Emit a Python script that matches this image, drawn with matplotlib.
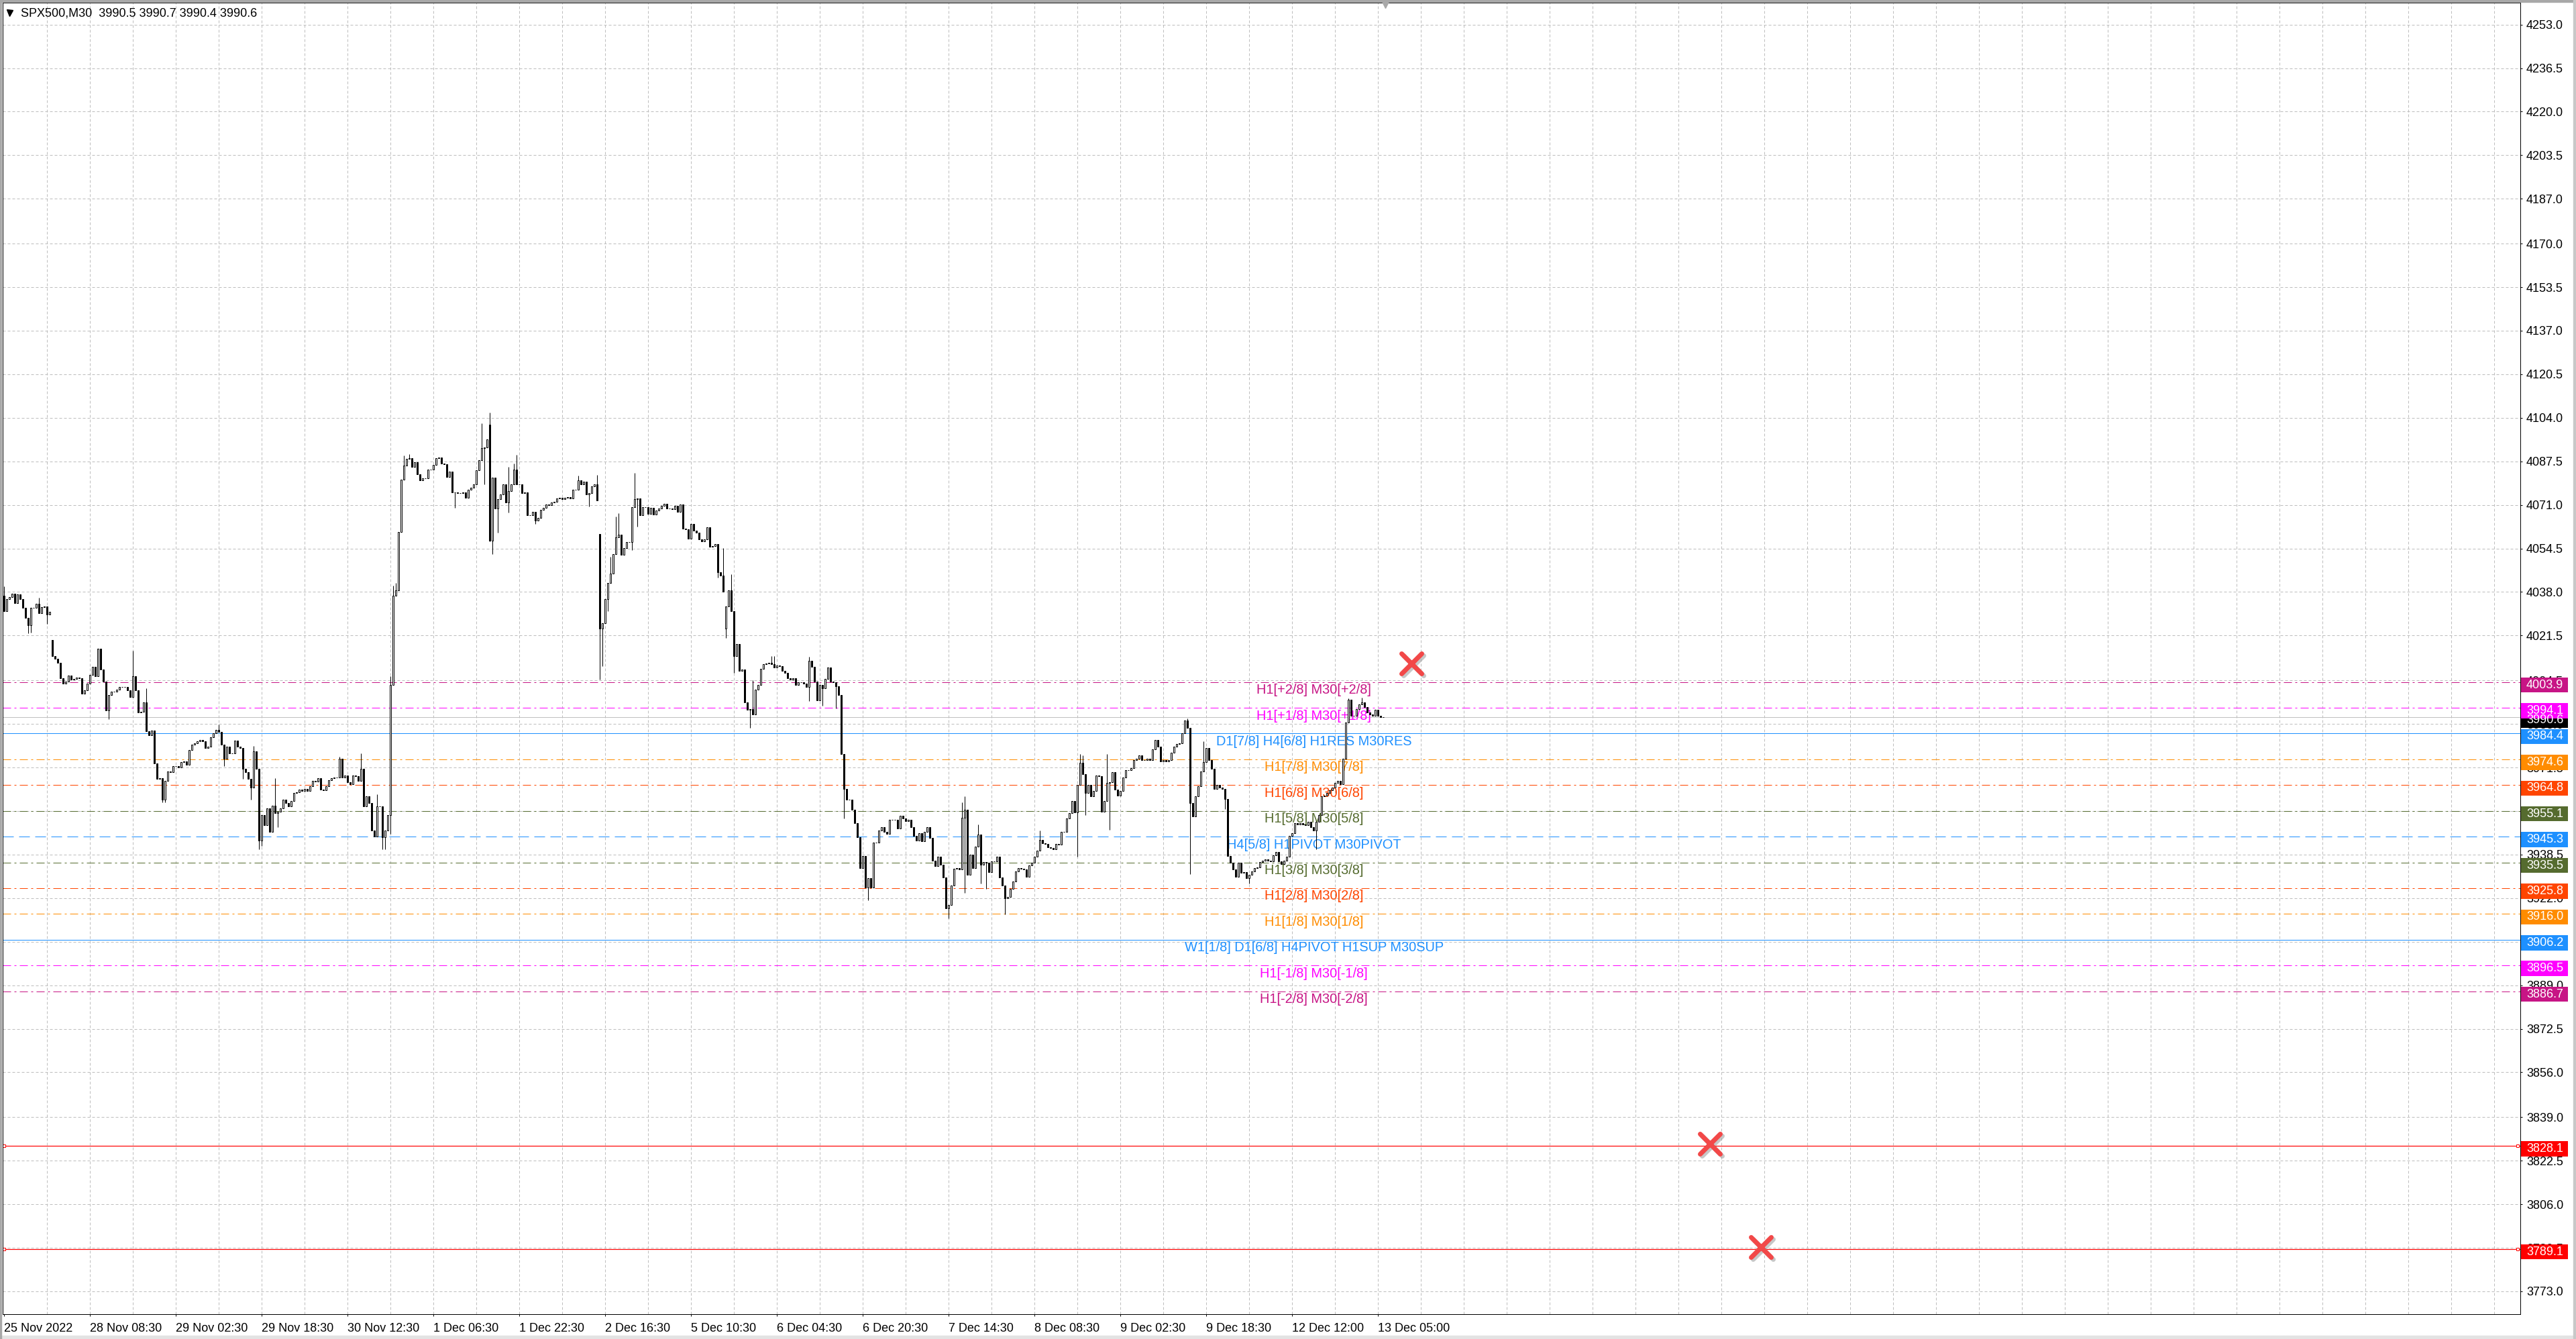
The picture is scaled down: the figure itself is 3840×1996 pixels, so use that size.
import numpy as np
import matplotlib.pyplot as plt
import matplotlib.transforms as mtransforms
from matplotlib.markers import MarkerStyle
from matplotlib.patches import Rectangle

plt.rcParams['font.family'] = ['Liberation Sans', 'DejaVu Sans']
plt.rcParams['lines.scale_dashes'] = False

# ---- M30 closes, one list per trading day ----
nov25 = [4030.7, 4035.2, 4036.1, 4037.4, 4033.9, 4037.2, 4035.2, 4032.0, 4028.1, 4025.5,
         4032.0, 4032.0, 4033.5, 4030.0, 4032.2, 4032.4, 4029.6, 4030.4]
nov28 = [4013.8, 4012.8, 4011.2, 4005.4, 4003.4, 4004.1, 4006.3, 4004.7, 4005.0,
         4005.7, 4005.4, 3999.6, 4000.8, 4003.4, 4006.7, 4009.7, 4006.0, 4016.4, 4008.6,
         4004.1, 3993.1, 3998.9, 4000.2, 4000.2, 4001.1, 4001.9, 4002.1, 4002.1, 4000.8,
         3998.3, 4006.0, 4000.8, 3992.4, 3992.7, 3996.3, 3985.3, 3983.7, 3985.5, 3973.0,
         3967.1, 3967.4, 3959.3, 3966.5]
nov29 = [3970.0, 3969.7, 3971.9, 3971.9, 3971.5, 3973.6, 3973.9, 3972.6, 3978.2, 3980.1,
         3980.7, 3981.4, 3982.0, 3981.4, 3978.8, 3979.5, 3983.0, 3984.6, 3985.7, 3985.0,
         3980.1, 3974.9, 3979.5, 3976.9, 3976.9, 3981.7, 3979.5, 3978.8, 3971.0, 3969.7,
         3967.1, 3963.9, 3977.5, 3971.0, 3943.8, 3953.5, 3949.6, 3956.1, 3947.0, 3957.0,
         3954.2, 3954.8, 3956.1, 3959.3]
nov30 = [3958.1, 3956.8, 3958.7, 3961.9, 3962.2, 3963.2, 3962.6, 3963.5, 3962.6, 3964.3,
         3966.5, 3966.1, 3967.4, 3963.2, 3963.0, 3964.5, 3966.7, 3967.4, 3967.8, 3967.8,
         3974.9, 3967.8, 3968.4, 3965.8, 3965.2, 3968.4, 3968.2, 3966.5, 3971.0, 3956.8,
         3960.6, 3958.1, 3947.7, 3945.3, 3956.8, 3956.8, 3945.1, 3947.7, 3953.5, 4002.8,
         4036.5, 4038.7, 4060.8, 4080.6]
dec01 = [4085.8, 4088.4, 4088.7, 4085.4, 4087.1, 4082.6, 4080.2, 4081.0, 4081.0, 4084.5,
         4084.5, 4086.2, 4088.8, 4089.0, 4086.7, 4086.5, 4081.5, 4083.6, 4075.8, 4075.8,
         4075.4, 4075.4, 4075.8, 4073.7, 4076.7, 4077.6, 4078.7, 4084.2, 4088.0, 4092.5,
         4092.7, 4095.8, 4057.5, 4081.3, 4069.6, 4073.2, 4075.0, 4078.7, 4071.9, 4076.3,
         4078.7, 4084.5, 4078.9, 4078.7]
dec02 = [4075.4, 4075.8, 4067.0, 4067.0, 4068.3, 4065.1, 4066.1, 4069.2, 4069.9, 4071.1,
         4070.9, 4071.9, 4072.2, 4073.5, 4073.8, 4073.2, 4073.6, 4073.9, 4073.4, 4076.7,
         4076.7, 4080.2, 4078.7, 4079.7, 4075.0, 4075.4, 4078.0, 4078.7, 4072.8, 4024.2,
         4026.1, 4035.2, 4041.3, 4044.9, 4052.3, 4058.8, 4059.6, 4052.1, 4054.7, 4056.9,
         4056.9, 4070.2, 4073.1, 4073.5]
dec05 = [4067.0, 4070.2, 4070.2, 4067.6, 4069.9, 4067.3, 4068.9, 4069.6, 4070.6, 4071.4,
         4069.6, 4069.6, 4069.3, 4070.6, 4068.3, 4071.1, 4062.1, 4061.8, 4058.2, 4063.8,
         4061.2, 4060.5, 4057.9, 4057.3, 4057.9, 4062.5, 4055.1, 4055.3, 4056.2, 4045.6,
         4044.3, 4038.2, 4032.4, 4038.7, 4030.7, 4013.8, 4018.4, 4008.0, 4008.6, 3996.3,
         3993.3, 3993.7, 3991.5, 4001.1]
dec06 = [4002.8, 4008.9, 4010.6, 4011.0, 4011.2, 4010.6, 4009.3, 4010.2, 4009.9, 4008.0,
         4007.3, 4005.4, 4004.7, 4005.4, 4002.8, 4003.7, 4003.7, 4003.4, 4001.9, 4011.9,
         4009.7, 4004.1, 3997.0, 4002.8, 4001.5, 4005.0, 4009.3, 4004.1, 4003.7, 4002.4,
         3998.9, 3976.5, 3963.5, 3959.3, 3959.3, 3955.5, 3950.5, 3945.1, 3933.4, 3938.0,
         3925.9, 3929.5, 3925.9, 3943.1]
dec07 = [3943.1, 3947.7, 3949.0, 3947.0, 3946.4, 3951.8, 3951.6, 3951.6, 3948.3, 3953.1,
         3952.2, 3951.3, 3951.6, 3949.0, 3945.7, 3943.8, 3946.6, 3943.5, 3947.0, 3949.0,
         3944.8, 3936.3, 3934.1, 3937.6, 3934.7, 3929.8, 3918.1, 3919.4, 3926.9, 3933.1,
         3933.4, 3932.8, 3952.5, 3955.5, 3930.8, 3938.6, 3933.4, 3941.4, 3946.1, 3934.7,
         3935.7, 3935.3, 3931.8, 3936.0]
dec08 = [3936.0, 3937.6, 3929.8, 3926.7, 3922.0, 3922.4, 3925.6, 3928.2, 3932.1, 3933.4,
         3933.1, 3932.8, 3930.2, 3934.5, 3935.3, 3937.6, 3939.9, 3944.0, 3942.7, 3942.5,
         3941.2, 3940.9, 3940.5, 3942.5, 3942.2, 3947.0, 3947.0, 3952.2, 3954.2, 3958.7,
         3954.4, 3964.8, 3973.2, 3969.1, 3961.9, 3964.8, 3960.6, 3962.6, 3968.4, 3968.2,
         3954.8, 3958.7, 3965.6, 3965.8]
dec09 = [3969.7, 3963.2, 3960.9, 3962.6, 3967.8, 3970.4, 3970.4, 3971.3, 3974.3, 3974.9,
         3976.2, 3974.3, 3974.3, 3974.7, 3974.3, 3978.5, 3982.0, 3979.5, 3973.9, 3974.3,
         3973.9, 3974.3, 3977.2, 3979.5, 3980.4, 3980.7, 3984.6, 3989.2, 3986.6, 3958.1,
         3952.9, 3960.6, 3964.5, 3970.0, 3973.6, 3978.8, 3974.3, 3971.0, 3963.5, 3964.8,
         3963.9, 3963.5, 3959.6, 3938.0, 3935.3]
dec12 = [3932.8, 3930.2, 3935.3, 3931.5, 3931.8, 3929.5, 3930.8, 3932.1, 3933.4, 3933.7,
         3935.7, 3936.3, 3936.6, 3936.3, 3936.0, 3938.3, 3939.6, 3936.0, 3935.0, 3936.3,
         3937.6, 3945.7, 3946.6, 3950.3, 3950.0, 3950.5, 3950.0, 3949.6, 3950.9, 3949.0,
         3947.7, 3950.9, 3953.5, 3960.6, 3960.9, 3961.9, 3963.0, 3963.9, 3965.6, 3966.5,
         3965.2, 3974.9, 3988.5, 3997.2, 3991.1, 3991.1]
dec13 = [3993.7, 3995.4, 3996.3, 3994.4, 3992.4, 3991.5, 3991.0, 3993.3, 3991.1, 3990.7,
         3990.6]

# opens that differ from the previous close (session gaps, news spikes)
gap_opens = {0: 4036.5, 18: 4019.9, 181: 4101.4, 222: 4060.1, 269: 4024.2}
# wick extremes that stick out of the bodies
wick_highs = {0: 4040.2, 13: 4035.9, 48: 4015.8, 53: 4001.5, 80: 3987.9, 93: 3979.7,
              101: 3967.4, 125: 3975.6, 133: 3976.9, 139: 3961.3, 144: 4006.0, 145: 4040.4,
              146: 4041.3, 149: 4089.7, 151: 4090.3, 178: 4102.0, 181: 4105.9, 188: 4085.4,
              190: 4086.7, 191: 4090.1, 214: 4082.2, 221: 4082.3, 226: 4051.4, 228: 4066.6,
              229: 4067.9, 235: 4083.2, 268: 4054.7, 271: 4044.6, 279: 4004.5, 286: 4013.6,
              287: 4013.6, 300: 4013.4, 357: 3958.3, 358: 3960.6, 363: 3950.0, 386: 3947.7,
              401: 3976.5, 402: 3976.2, 411: 3976.5, 441: 3990.2, 447: 3981.4, 501: 3997.6,
              506: 3998.0}
wick_lows = {9: 4022.3, 10: 4022.6, 16: 4025.8, 39: 3989.8, 59: 3958.3, 60: 3958.3,
             82: 3972.1, 89: 3967.1, 92: 3959.3, 95: 3940.6, 96: 3941.8, 102: 3949.0,
             141: 3940.6, 142: 3940.6, 144: 3946.4, 145: 4025.5, 168: 4069.9, 179: 4078.9,
             181: 4057.3, 182: 4052.3, 184: 4060.5, 188: 4068.1, 198: 4063.8, 218: 4070.5,
             222: 4004.7, 223: 4009.9, 225: 4030.7, 234: 4054.0, 236: 4062.9, 266: 4043.4,
             269: 4020.6, 272: 4007.3, 278: 3986.6, 300: 3996.7, 305: 3995.0, 310: 3994.0,
             313: 3952.2, 322: 3921.1, 352: 3914.2, 358: 3924.1, 364: 3927.6, 366: 3925.6,
             373: 3915.9, 400: 3937.6, 403: 3953.5, 412: 3947.9, 442: 3931.1, 455: 3955.7,
             464: 3927.6, 489: 3940.6}

time_labels = ["25 Nov 2022", "28 Nov 08:30", "29 Nov 02:30", "29 Nov 18:30", "30 Nov 12:30",
               "1 Dec 06:30", "1 Dec 22:30", "2 Dec 16:30", "5 Dec 10:30", "6 Dec 04:30",
               "6 Dec 20:30", "7 Dec 14:30", "8 Dec 08:30", "9 Dec 02:30", "9 Dec 18:30",
               "12 Dec 12:00", "13 Dec 05:00"]
bars_per_label = 32

price_ticks = [4253.0, 4236.5, 4220.0, 4203.5, 4187.0, 4170.0, 4153.5, 4137.0, 4120.5, 4104.0,
               4087.5, 4071.0, 4054.5, 4038.0, 4021.5, 4004.5, 3988.0, 3971.5, 3955.0, 3938.5,
               3922.0, 3905.5, 3889.0, 3872.5, 3856.0, 3839.0, 3822.5, 3806.0, 3789.5, 3773.0]

level_prices = [4003.9, 3994.1, 3984.4, 3974.6, 3964.8, 3955.1, 3945.3, 3935.5, 3925.8,
                3916.0, 3906.2, 3896.5, 3886.7]
level_names = ["H1[+2/8] M30[+2/8]", "H1[+1/8] M30[+1/8]", "D1[7/8] H4[6/8] H1RES M30RES",
               "H1[7/8] M30[7/8]", "H1[6/8] M30[6/8]", "H1[5/8] M30[5/8]",
               "H4[5/8] H1PIVOT M30PIVOT", "H1[3/8] M30[3/8]", "H1[2/8] M30[2/8]",
               "H1[1/8] M30[1/8]", "W1[1/8] D1[6/8] H4PIVOT H1SUP M30SUP",
               "H1[-1/8] M30[-1/8]", "H1[-2/8] M30[-2/8]"]
alert_prices = [3828.1, 3789.1]
last_price = 3990.6
title = "SPX500,M30  3990.5 3990.7 3990.4 3990.6"
cross_bars = [524.6, 635.9, 654.9]
cross_prices = [4010.9, 3828.9, 3789.8]

# ---- styles ----
W, H, DPI = 3840, 1996, 100
PX = 72 / DPI
FS = 18 * PX
VIOLET, MAGENTA, BLUE = '#C71585', '#FF00FF', '#1E90FF'
ORANGE, ORANGERED, OLIVE = '#FF8C00', '#FF4500', '#556B2F'
DASHDOT = (12 * PX, 5 * PX, 3 * PX, 5 * PX)
level_colors = [VIOLET, MAGENTA, BLUE, ORANGE, ORANGERED, OLIVE, BLUE, OLIVE, ORANGERED,
                ORANGE, BLUE, MAGENTA, VIOLET]
level_dashes = [DASHDOT, DASHDOT, None, DASHDOT, DASHDOT, DASHDOT, (16 * PX, 8 * PX), DASHDOT,
                DASHDOT, DASHDOT, None, DASHDOT, DASHDOT]
LABEL_BAR = 488.3

closes = np.concatenate([np.asarray(d, float) for d in
                         (nov25, nov28, nov29, nov30, dec01, dec02, dec05, dec06,
                          dec07, dec08, dec09, dec12, dec13)])
n = len(closes)
xs = np.arange(n)
opens = np.r_[closes[0], closes[:-1]]
for i, v in gap_opens.items():
    opens[i] = v
highs = np.maximum(opens, closes)
lows = np.minimum(opens, closes)
for i, v in wick_highs.items():
    highs[i] = max(highs[i], v)
for i, v in wick_lows.items():
    lows[i] = min(lows[i], v)

fig = plt.figure(figsize=(W / DPI, H / DPI), dpi=DPI)
ax = fig.add_axes([4 / W, 37 / H, 3753 / W, 1955 / H])
ymin, ymax = 3764.35, 4261.3
xmin, xmax = -0.4, 937.85
ax.set_xlim(xmin, xmax)
ax.set_ylim(ymin, ymax)
ppx = (ymax - ymin) / 1955  # price per pixel

# grid
for v in price_ticks:
    ax.axhline(v, color='#BDBDBD', lw=PX, dashes=(4 * PX, 3 * PX), zorder=0)
for b in np.arange(16, 940, 16):
    ax.axvline(b, color='#BDBDBD', lw=PX, dashes=(4 * PX, 3 * PX), zorder=0)

# murrey levels
for p, c, d in zip(level_prices, level_colors, level_dashes):
    if d is None:
        ax.axhline(p, color=c, lw=PX, zorder=1)
    else:
        ax.axhline(p, color=c, lw=PX, dashes=d, zorder=1)
for p in alert_prices:
    ax.axhline(p, color='#FF0000', lw=PX * 1.2, zorder=1)
    ax.plot([xmin + 0.4, xmax - 1.0], [p, p], ls='none', marker='s', ms=4 * PX,
            mfc='white', mec='#FF0000', mew=PX, clip_on=False, zorder=2)
ax.axhline(last_price, color='#C0C0C0', lw=PX, zorder=1)

for p, name, c in zip(level_prices, level_names, level_colors):
    ax.text(LABEL_BAR, p - 2.5 * ppx, name, color=c, fontsize=20 * PX,
            ha='center', va='top', zorder=2)

# candles
up = closes >= opens
ax.vlines(xs, lows, highs, color='black', lw=PX, zorder=3)
ax.bar(xs, np.abs(closes - opens), bottom=np.minimum(opens, closes), width=0.5,
       color=np.where(up, 'white', 'black'), edgecolor='black', linewidth=PX, zorder=4)

# alert crosses
xmark = MarkerStyle('x', capstyle='round')
shadow = mtransforms.offset_copy(ax.transData, fig=fig, x=3, y=-3, units='dots')
ax.plot(cross_bars, cross_prices, ls='none', marker=xmark, ms=30 * PX, mew=7 * PX,
        color='#9A9A9A', alpha=0.55, transform=shadow, zorder=6)
ax.plot(cross_bars, cross_prices, ls='none', marker=xmark, ms=30 * PX, mew=7 * PX,
        color='#F24848', zorder=7)

# chart-shift triangle at the top
ax.plot([514.9], [ymax - 3 * ppx], marker='v', ms=10 * PX, color='#A8A8A8',
        clip_on=False, zorder=8)

# axes
for s in ax.spines.values():
    s.set_color('black')
    s.set_linewidth(PX)
ax.yaxis.tick_right()
ax.set_yticks(price_ticks)
ax.set_yticklabels([f'{v:.1f}' for v in price_ticks])
ax.tick_params(axis='y', direction='out', length=3 * PX, width=PX, pad=6 * PX,
               labelsize=FS, colors='black')
ax.set_xticks(np.arange(len(time_labels)) * bars_per_label)
ax.set_xticklabels(time_labels, ha='left')
ax.tick_params(axis='x', direction='out', length=3 * PX, width=PX, pad=10 * PX,
               labelsize=FS, colors='black')

# price tags on the right scale (drawn a few pixels below their level, as MT4 does)
tag = mtransforms.blended_transform_factory(ax.transAxes, ax.transData)
tag_x0 = 1 + 1.5 / 3753
tag_w = 70 / 3753
tag_h = 22.5 * ppx
tag_shift = 4.5 * ppx


def price_tag(p, color):
    yc = p - tag_shift
    ax.add_patch(Rectangle((tag_x0, yc - tag_h / 2), tag_w, tag_h, transform=tag,
                           facecolor=color, edgecolor='none', clip_on=False, zorder=9))
    ax.text(1 + 9 / 3753, yc, f'{p:.1f}', transform=tag, color='white', fontsize=FS,
            ha='left', va='center', clip_on=False, zorder=10)


price_tag(last_price, 'black')
for p, c in zip(level_prices, level_colors):
    price_tag(p, c)
for p in alert_prices:
    price_tag(p, '#FF0000')

# title
ax.plot([0.00274], [0.9925], transform=ax.transAxes, marker='v', ms=9 * PX,
        color='black', clip_on=False, zorder=10)
ax.text(0.0072, 0.9918, title, transform=ax.transAxes, fontsize=FS, ha='left',
        va='center', zorder=10)

# window frame
fig.add_artist(Rectangle((0, 1 - 3 / H), 1, 3 / H, transform=fig.transFigure,
                         color='#A8A8A8'))
fig.add_artist(Rectangle((0, 0), 1, 5 / H, transform=fig.transFigure, color='#E3E3E3'))
fig.add_artist(Rectangle((0, 0), 2 / W, 1, transform=fig.transFigure, color='#A8A8A8'))
fig.add_artist(Rectangle((1 - 4 / W, 0), 4 / W, 1, transform=fig.transFigure,
                         color='#C8C8C8'))

fig.savefig('out.png', dpi=DPI)
